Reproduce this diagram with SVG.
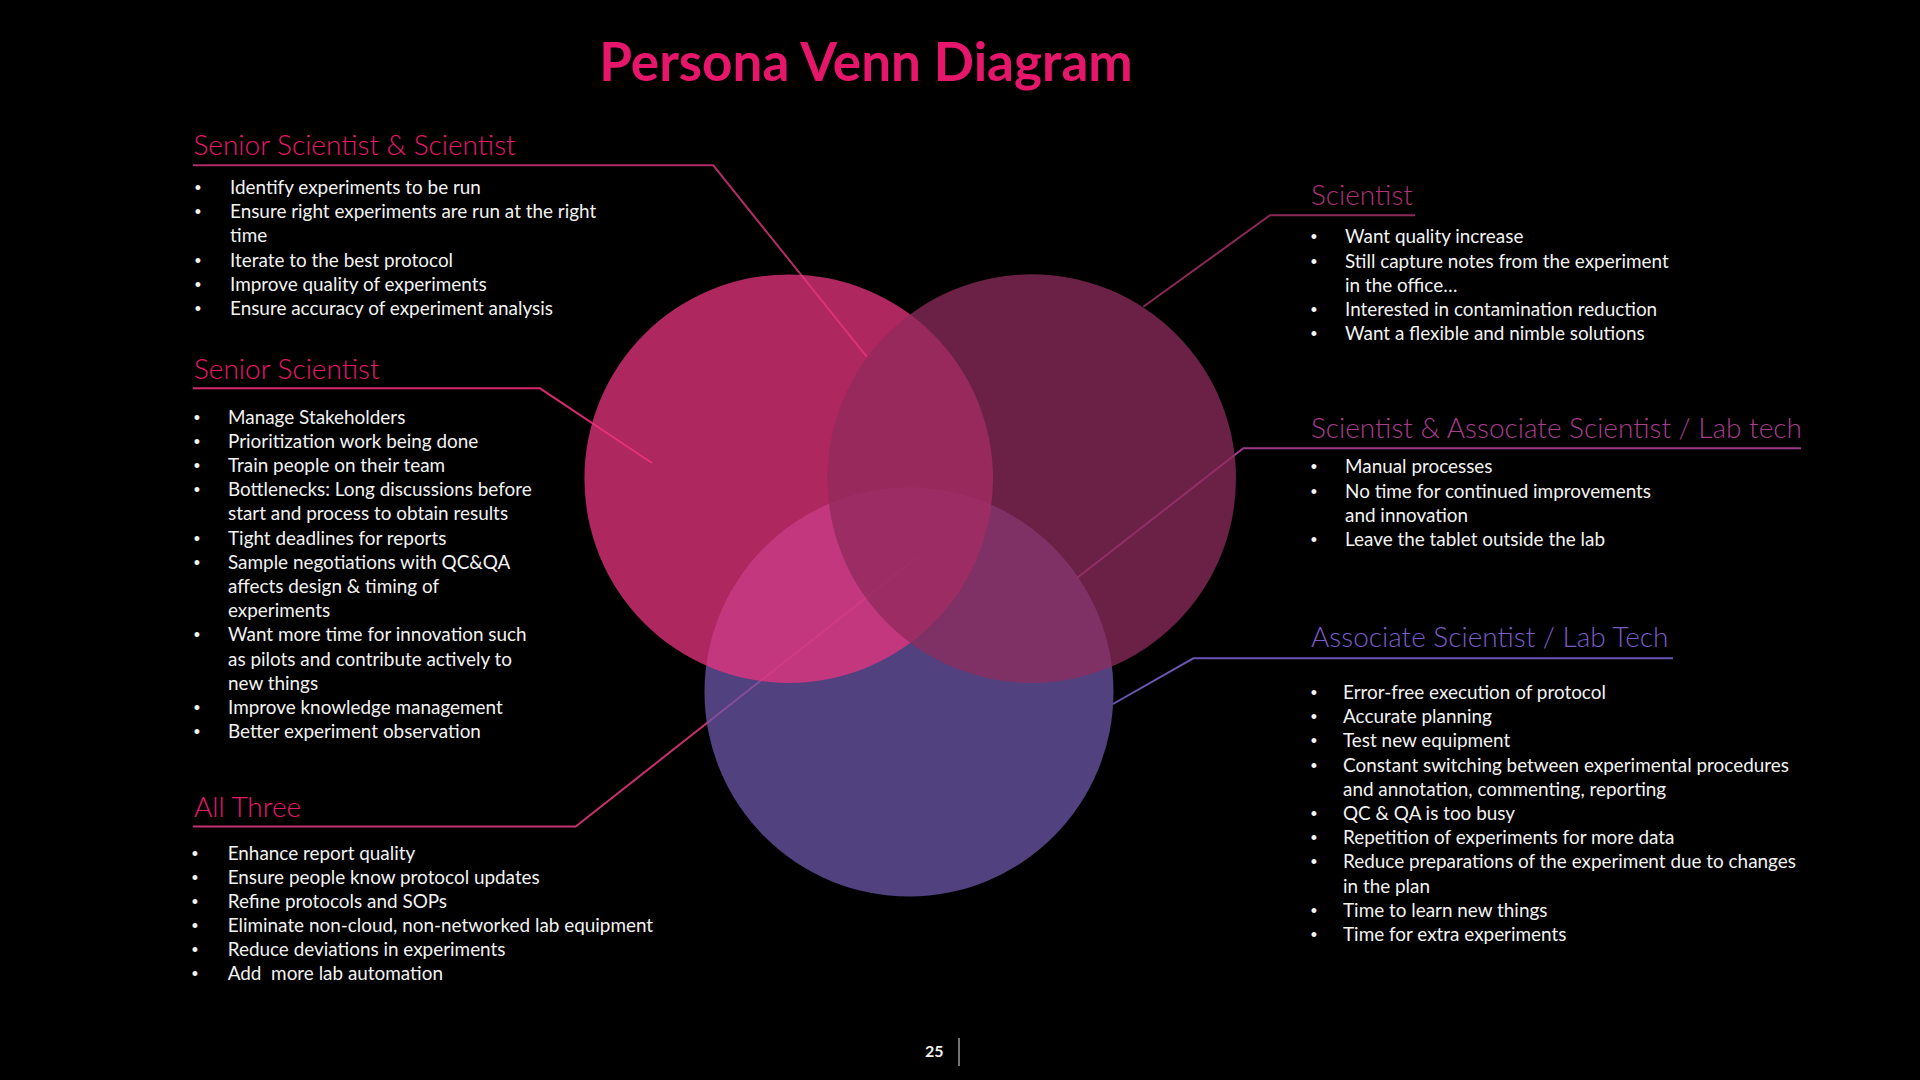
<svg xmlns="http://www.w3.org/2000/svg" width="1920" height="1080" viewBox="0 0 1920 1080">
<style>
.body{font-family:Lato,"Open Sans","Liberation Sans",sans-serif;font-size:18.9px;fill:#F2F2F2}
.bul{font-family:"Liberation Sans",sans-serif;font-size:18px;fill:#F2F2F2;text-anchor:middle}
.head{font-family:Lato,"Open Sans","Liberation Sans",sans-serif;font-size:28px;font-weight:300}
.title{font-family:Lato,"Open Sans","Liberation Sans",sans-serif;font-size:53px;font-weight:700;fill:#E6176B}
.conn{fill:none;stroke-width:2}
.circ{fill-opacity:0.75}
</style>
<rect x="0" y="0" width="1920" height="1080" fill="#000000"/>
<g id="connectors">
<polyline class="conn" stroke="#B12C66" points="193,165.3 713.3,165.3 866.7,356.7"/>
<polyline class="conn" stroke="#D6286E" points="193,388.3 540,388.3 652,463"/>
<polyline class="conn" stroke="#C8306E" points="193,826.5 575.7,826.5 916,558.3"/>
<polyline class="conn" stroke="#8C2858" points="1415,215.3 1270,215.3 1143.3,306.7"/>
<polyline class="conn" stroke="#9A3A88" points="1801,448.3 1243.3,448.3 1077,578"/>
<polyline class="conn" stroke="#6A55B0" points="1673,658.3 1193.3,658.3 1113,704"/>
</g>
<g id="venn">
<circle id="circle-associate" class="circ" cx="909" cy="692" r="204.5" fill="#6C57AA"/>
<circle id="circle-senior" class="circ" cx="788.7" cy="478.7" r="204.3" fill="#E8347E"/>
<circle id="circle-scientist" class="circ" cx="1031.7" cy="478.6" r="204.3" fill="#8F2B5C"/>
</g>
<g id="title">
<text class="title" x="866" y="81" text-anchor="middle">Persona Venn Diagram</text>
</g>
<g id="senior-and-scientist">
<text class="head" x="193.5" y="155" fill="#E8186B">Senior Scientist &amp; Scientist</text>
<text class="bul" x="198" y="194">•</text><text class="body" x="230" y="194">Identify experiments to be run</text>
<text class="bul" x="198" y="218.2">•</text><text class="body" x="230" y="218.2">Ensure right experiments are run at the right</text>
<text class="body" x="230" y="242.4">time</text>
<text class="bul" x="198" y="266.6">•</text><text class="body" x="230" y="266.6">Iterate to the best protocol</text>
<text class="bul" x="198" y="290.8">•</text><text class="body" x="230" y="290.8">Improve quality of experiments</text>
<text class="bul" x="198" y="315">•</text><text class="body" x="230" y="315">Ensure accuracy of experiment analysis</text>
</g>
<g id="senior-scientist">
<text class="head" x="194" y="379.3" fill="#E8186B">Senior Scientist</text>
<text class="bul" x="197" y="423.5">•</text><text class="body" x="228" y="423.5">Manage Stakeholders</text>
<text class="bul" x="197" y="447.7">•</text><text class="body" x="228" y="447.7">Prioritization work being done</text>
<text class="bul" x="197" y="471.9">•</text><text class="body" x="228" y="471.9">Train people on their team</text>
<text class="bul" x="197" y="496.1">•</text><text class="body" x="228" y="496.1">Bottlenecks: Long discussions before</text>
<text class="body" x="228" y="520.3">start and process to obtain results</text>
<text class="bul" x="197" y="544.5">•</text><text class="body" x="228" y="544.5">Tight deadlines for reports</text>
<text class="bul" x="197" y="568.7">•</text><text class="body" x="228" y="568.7">Sample negotiations with QC&amp;QA</text>
<text class="body" x="228" y="592.9">affects design &amp; timing of</text>
<text class="body" x="228" y="617.1">experiments</text>
<text class="bul" x="197" y="641.3">•</text><text class="body" x="228" y="641.3">Want more time for innovation such</text>
<text class="body" x="228" y="665.5">as pilots and contribute actively to</text>
<text class="body" x="228" y="689.7">new things</text>
<text class="bul" x="197" y="713.9">•</text><text class="body" x="228" y="713.9">Improve knowledge management</text>
<text class="bul" x="197" y="738.1">•</text><text class="body" x="228" y="738.1">Better experiment observation</text>
</g>
<g id="all-three">
<text class="head" x="194" y="817.3" fill="#E8186B">All Three</text>
<text class="bul" x="195" y="860">•</text><text class="body" x="227.7" y="860">Enhance report quality</text>
<text class="bul" x="195" y="884">•</text><text class="body" x="227.7" y="884">Ensure people know protocol updates</text>
<text class="bul" x="195" y="908">•</text><text class="body" x="227.7" y="908">Refine protocols and SOPs</text>
<text class="bul" x="195" y="932">•</text><text class="body" x="227.7" y="932">Eliminate non-cloud, non-networked lab equipment</text>
<text class="bul" x="195" y="956">•</text><text class="body" x="227.7" y="956">Reduce deviations in experiments</text>
<text class="bul" x="195" y="980">•</text><text class="body" x="227.7" y="980" xml:space="preserve">Add  more lab automation</text>
</g>
<g id="scientist">
<text class="head" x="1311" y="205" fill="#AF3278">Scientist</text>
<text class="bul" x="1314" y="243.3">•</text><text class="body" x="1345" y="243.3">Want quality increase</text>
<text class="bul" x="1314" y="267.5">•</text><text class="body" x="1345" y="267.5">Still capture notes from the experiment</text>
<text class="body" x="1345" y="291.7">in the office…</text>
<text class="bul" x="1314" y="315.9">•</text><text class="body" x="1345" y="315.9">Interested in contamination reduction</text>
<text class="bul" x="1314" y="340.1">•</text><text class="body" x="1345" y="340.1">Want a flexible and nimble solutions</text>
</g>
<g id="scientist-and-associate">
<text class="head" x="1311" y="438.3" fill="#A83C8E">Scientist &amp; Associate Scientist / Lab tech</text>
<text class="bul" x="1314" y="473.3">•</text><text class="body" x="1345" y="473.3">Manual processes</text>
<text class="bul" x="1314" y="497.5">•</text><text class="body" x="1345" y="497.5">No time for continued improvements</text>
<text class="body" x="1345" y="521.7">and innovation</text>
<text class="bul" x="1314" y="545.9">•</text><text class="body" x="1345" y="545.9">Leave the tablet outside the lab</text>
</g>
<g id="associate">
<text class="head" x="1311" y="646.7" fill="#7A5CC6">Associate Scientist / Lab Tech</text>
<text class="bul" x="1314" y="699">•</text><text class="body" x="1343" y="699">Error-free execution of protocol</text>
<text class="bul" x="1314" y="723.2">•</text><text class="body" x="1343" y="723.2">Accurate planning</text>
<text class="bul" x="1314" y="747.4">•</text><text class="body" x="1343" y="747.4">Test new equipment</text>
<text class="bul" x="1314" y="771.6">•</text><text class="body" x="1343" y="771.6">Constant switching between experimental procedures</text>
<text class="body" x="1343" y="795.8">and annotation, commenting, reporting</text>
<text class="bul" x="1314" y="820">•</text><text class="body" x="1343" y="820">QC &amp; QA is too busy</text>
<text class="bul" x="1314" y="844.2">•</text><text class="body" x="1343" y="844.2">Repetition of experiments for more data</text>
<text class="bul" x="1314" y="868.4">•</text><text class="body" x="1343" y="868.4">Reduce preparations of the experiment due to changes</text>
<text class="body" x="1343" y="892.6">in the plan</text>
<text class="bul" x="1314" y="916.8">•</text><text class="body" x="1343" y="916.8">Time to learn new things</text>
<text class="bul" x="1314" y="941">•</text><text class="body" x="1343" y="941">Time for extra experiments</text>
</g>
<g id="page-number">
<text x="925" y="1057" font-family="Lato,'Liberation Sans',sans-serif" font-size="16" font-weight="700" fill="#F2F2F2">25</text>
<line x1="959" y1="1038" x2="959" y2="1066" stroke="#9A9A9A" stroke-width="1.5"/>
</g>
</svg>
